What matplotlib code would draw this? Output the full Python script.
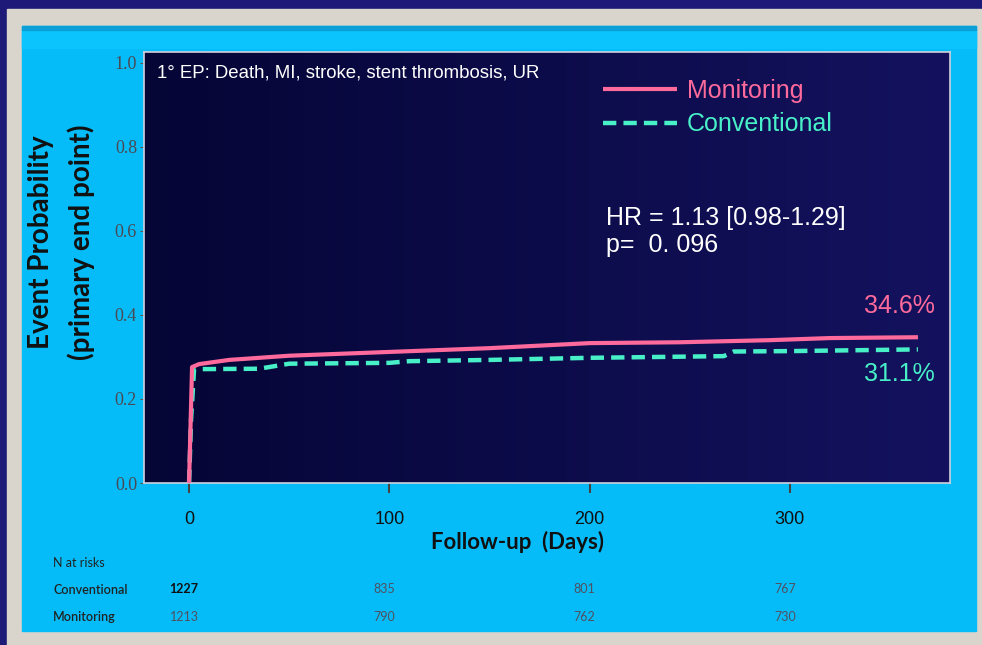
import matplotlib.pyplot as plt
import numpy as np
from matplotlib.patches import Rectangle

# Kaplan-Meier style curves
mon_days = [0, 1.5, 5, 20, 50, 100, 150, 200, 245, 290, 320, 364]
mon_prob = [0.0, 0.276, 0.283, 0.293, 0.303, 0.312, 0.321, 0.333, 0.335, 0.340, 0.345, 0.347]
conv_days = [0, 1, 2.5, 35, 50, 100, 110, 150, 200, 267, 272, 300, 364]
conv_prob = [0.0, 0.15, 0.271, 0.272, 0.284, 0.286, 0.290, 0.293, 0.298, 0.302, 0.313, 0.314, 0.318]

risk_days = [0, 100, 200, 300]
risk_conv = ['1227', '835', '801', '767']
risk_mon = ['1213', '790', '762', '730']

pink = '#fe6a9c'
teal = '#48f0c8'

fig = plt.figure(figsize=(9.82, 6.45), dpi=100)
fig.patch.set_facecolor('#1d1a78')

# slide panels
fig.add_artist(Rectangle((7 / 982, 0), 975 / 982, 1 - 9 / 645,
                         transform=fig.transFigure, color='#d9d5cd', zorder=0))
fig.add_artist(Rectangle((22 / 982, 1 - 631 / 645), 954 / 982, 605 / 645,
                         transform=fig.transFigure, color='#05bcf9', zorder=0))
fig.add_artist(Rectangle((22 / 982, 1 - 48 / 645), 954 / 982, 18 / 645,
                         transform=fig.transFigure, color='#0cc4fd', zorder=0))
fig.add_artist(Rectangle((22 / 982, 1 - 30 / 645), 954 / 982, 4 / 645,
                         transform=fig.transFigure, color='#0a9fd6', zorder=0))

ax = fig.add_axes([144 / 982, 1 - 483 / 645, 806 / 982, 431 / 645])
ax.set_xlim(-22.5, 380)
ax.set_ylim(0, 1.026)

grad = np.linspace(0, 1, 256).reshape(1, -1)
c0 = np.array([0x05, 0x05, 0x36]) / 255
c1 = np.array([0x14, 0x12, 0x5e]) / 255
img = c0[None, None, :] * (1 - grad[..., None]) + c1[None, None, :] * grad[..., None]
ax.imshow(img, extent=[0, 1, 0, 1], transform=ax.transAxes, aspect='auto', zorder=0)

ax.plot(mon_days, mon_prob, color=pink, lw=3.0, label='Monitoring', zorder=3,
        solid_capstyle='butt')
ax.plot(conv_days, conv_prob, color=teal, lw=3.2, ls=(0, (3.0, 1.6)), label='Conventional',
        zorder=2)

for s in ax.spines.values():
    s.set_color('#d0d0dc')
    s.set_linewidth(1.2)

ax.set_yticks([0, 0.2, 0.4, 0.6, 0.8, 1.0])
ax.set_yticklabels(['0.0', '0.2', '0.4', '0.6', '0.8', '1.0'],
                   family='Liberation Serif', fontsize=13, color='#4a4a55')
ax.tick_params(axis='y', length=3, color='#555555', pad=2)
ax.set_xticks(risk_days)
ax.set_xticklabels(['0', '100', '200', '300'], family='Liberation Sans', fontsize=13,
                   color='#111111')
ax.tick_params(axis='x', length=7, width=1.5, color='#444444', pad=13)

ax.set_xlabel('Follow-up  (Days)', family='Lato', fontweight='bold', fontsize=16,
              color='#111111')
ax.xaxis.set_label_coords(0.464, -0.111)
fig.text(41 / 982, 1 - 242 / 645, 'Event Probability', rotation=90, ha='center', va='center',
         family='Lato', fontweight='bold', fontsize=20, color='#111111')
fig.text(81 / 982, 1 - 242 / 645, '(primary end point)', rotation=90, ha='center', va='center',
         family='Lato', fontweight='bold', fontsize=20, color='#111111')

ax.legend(loc='upper left', bbox_to_anchor=(0.5695, 0.937), frameon=False,
          borderaxespad=0, borderpad=0, handlelength=2.95, handletextpad=0.4,
          labelspacing=0.37, labelcolor='linecolor',
          prop={'family': 'Liberation Sans', 'size': 18})

ax.text(0.016, 0.951, '1° EP: Death, MI, stroke, stent thrombosis, UR', transform=ax.transAxes,
        color='white', fontsize=13.4, family='Liberation Sans', va='center')
ax.text(0.573, 0.615, 'HR = 1.13 [0.98-1.29]', transform=ax.transAxes, color='white',
        fontsize=18, family='Liberation Sans', va='center')
ax.text(0.573, 0.552, 'p=  0. 096', transform=ax.transAxes, color='white',
        fontsize=18, family='Liberation Sans', va='center')
ax.text(0.981, 0.41, '34.6%', transform=ax.transAxes, color=pink, ha='right',
        fontsize=18, family='Liberation Sans', va='center')
ax.text(0.981, 0.252, '31.1%', transform=ax.transAxes, color=teal, ha='right',
        fontsize=18, family='Liberation Sans', va='center')

# numbers at risk
fig.text(53 / 982, 1 - 563 / 645, 'N at risks', fontsize=9, family='Lato',
         color='#222222', va='center')
fig.text(53 / 982, 1 - 590 / 645, 'Conventional', fontsize=9, family='Lato',
         color='#222222', va='center', fontweight='semibold')
fig.text(53 / 982, 1 - 617 / 645, 'Monitoring', fontsize=9, family='Lato',
         color='#222222', va='center', fontweight='semibold')
trans = ax.get_xaxis_transform()
for i, (d, c, m) in enumerate(zip(risk_days, risk_conv, risk_mon)):
    ax.text(d - 2.5, -0.247, c, transform=trans, ha='center', va='center', fontsize=9,
            family='Lato', color='#111111' if i == 0 else '#505060',
            fontweight='bold' if i == 0 else 'normal', clip_on=False)
    ax.text(d - 2.5, -0.31, m, transform=trans, ha='center', va='center', fontsize=9,
            family='Lato', color='#505060', clip_on=False)

fig.savefig('out.png', dpi=100, facecolor=fig.get_facecolor())
